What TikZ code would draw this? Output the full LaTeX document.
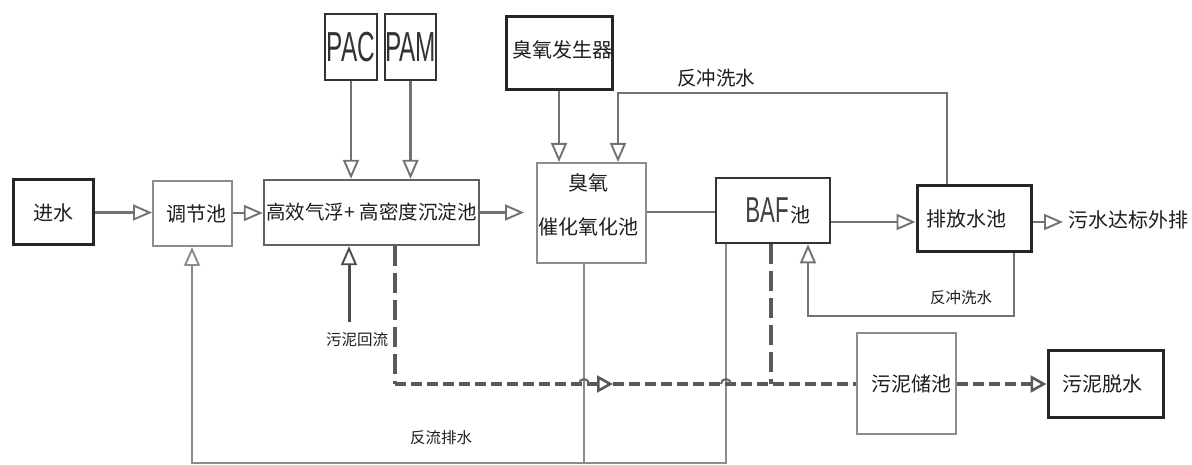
\documentclass[tikz,border=0pt]{standalone}
\usepackage{fontspec}
\usepackage{graphicx}
\setmainfont{Liberation Sans}
\newfontfamily\cjk{Noto Sans CJK SC}
\usetikzlibrary{arrows.meta,calc}
\definecolor{lnc}{HTML}{727272}
\definecolor{txt}{HTML}{1E1E1E}
\tikzset{
 bx/.style={rectangle, inner sep=0pt, font=\cjk\fontsize{20}{24}\selectfont, text=txt, align=center},
 dk/.style={bx, draw=black!85, line width=3pt},
 lt/.style={bx, draw=black!45, line width=2pt},
 md/.style={bx, draw=black!62, line width=2.4pt},
 tip/.style={-{Triangle[open,length=19pt,width=16pt,line width=1.9pt]}},
 flow/.style={draw=lnc, line width=2.5pt, tip},
 plain/.style={draw=lnc, line width=2.5pt},
 thinl/.style={draw=black!45, line width=1.5pt},
 sludge/.style={draw=black!65, line width=4pt, dash pattern=on 11pt off 5pt},
 sludgev/.style={draw=black!65, line width=4pt, dash pattern=on 20pt off 7pt},
 small/.style={font=\cjk\fontsize{15.5}{18}\selectfont, text=txt},
 lbl/.style={font=\cjk\fontsize{19.5}{22}\selectfont, text=txt},
 latin/.style={font=\fontsize{42}{42}\selectfont, text=black!80},
}
\begin{document}
\begin{tikzpicture}[x=1pt,y=-1pt]
\useasboundingbox[fill=white] (0,0) rectangle (1192,465);

% boxes
\node[dk, minimum width=80pt, minimum height=65pt] (in) at (53,212.5) {进水};
\node[lt, minimum width=79pt, minimum height=65pt] (tj) at (192.5,213.5) {\hspace*{8pt}调节池};
\node[md, minimum width=215pt, minimum height=65pt, font=\cjk\fontsize{19.5}{24}\selectfont] (gx) at (371.5,212.5) {高效气浮+ 高密度沉淀池};
\node[md, draw=black!80, minimum width=52pt, minimum height=66pt, latin] (pac) at (351,47) {\scalebox{0.58}[1]{PAC}};
\node[md, draw=black!80, minimum width=51pt, minimum height=66pt, latin] (pam) at (410.5,47) {\scalebox{0.58}[1]{PAM}};
\node[dk, minimum width=94pt, minimum height=73pt] (og) at (559,53.5) {\raisebox{8pt}{\hspace*{6pt}臭氧发生器}};
\node[lt, minimum width=109pt, minimum height=100pt] (oz) at (591.5,213) {};
\node[bx] (oztxt) at (588,205) {臭氧\\[20pt]催化氧化池};
\node[dk, draw=black!80, line width=2.6pt, minimum width=114pt, minimum height=65pt] (baf) at (773,210.5) {\hspace*{10pt}{\fontsize{36}{36}\selectfont\color{black!75}\scalebox{0.62}[1]{\rmfamily BAF}}\hspace{2pt}池};
\node[dk, minimum width=114pt, minimum height=66pt] (pf) at (974,219) {\raisebox{-3pt}{排放水池}\hspace*{16pt}};
\node[bx, anchor=west] (out) at (1068,220) {污水达标外排};
\node[lt, minimum width=99pt, minimum height=101pt] (nc) at (906.5,383.5) {\hspace*{10pt}污泥储池};
\node[dk, minimum width=115pt, minimum height=67pt] (ts) at (1105.5,383.5) {污泥脱水\hspace*{6pt}};

% labels
\node[lbl] (lab1) at (716,78) {反冲洗水};
\node[small] (lab2) at (961,298) {反冲洗水};
\node[small] (lab3) at (357,340) {污泥回流};
\node[small] (lab4) at (441,438) {反流排水};

% main flow
\draw[flow] (in.east) -- (in.east -| tj.west);
\draw[flow] (tj.east |- 0,213) -- (gx.west |- 0,213);
\draw[flow, shorten >=12pt] (gx.east) -- (gx.east -| oz.west);
\draw[plain] (oz.east |- 0,212) -- (baf.west |- 0,212);
\draw[flow] (baf.east |- 0,222) -- (pf.west |- 0,222);
\draw[flow, shorten >=5pt] (pf.east |- 0,222) -- (out.west |- 0,222);

% dosing
\draw[flow] (pac.south) -- (pac.south |- gx.north);
\draw[flow] (pam.south) -- (pam.south |- gx.north);
\draw[flow] (og.south) -- (og.south |- oz.north);

% backwash loops
\coordinate (tl) at (618,93);
\draw[plain, tip] ([xshift=-27pt]pf.north) |- (tl) -- (tl |- oz.north);
\coordinate (bl) at (808,316);
\draw[plain, tip] ([xshift=40pt]pf.south) |- (bl) -- (bl |- baf.south);

% sludge return
\coordinate (hl) at (349,322);
\draw[draw=black!70, line width=3pt, tip] (hl) -- (hl |- gx.south);

% bottom drain return
\coordinate (br) at (192,463);
\coordinate (bm) at (584,463);
\draw[thinl, -{Triangle[open,length=19pt,width=16pt,line width=1.9pt]}] ([xshift=-47pt]baf.south) |- (br) -- (br |- tj.south);
\draw[thinl] (bm |- oz.south) -- (bm);

% sludge lines
\coordinate (d1) at (395,384);
\coordinate (dm) at (613,384);
\coordinate (d2) at (771,384);
\draw[sludgev] (gx.south -| d1) -- (d1);
\draw[sludge, -{Triangle[open,length=16pt,width=17pt,line width=2.6pt]}] (d1) -- (dm);
\draw[sludge] (dm) -- (nc.west |- dm);
\draw[sludgev] (baf.south -| d2) -- (d2);
\draw[sludge, -{Triangle[open,length=16pt,width=17pt,line width=2.6pt]}] (nc.east |- dm) -- (ts.west |- dm);
% hops
\draw[black!60, line width=2pt] (579,384) arc[start angle=180, end angle=360, radius=5];
\draw[black!60, line width=2pt] (721,384) arc[start angle=180, end angle=360, radius=5];
\end{tikzpicture}
\end{document}
